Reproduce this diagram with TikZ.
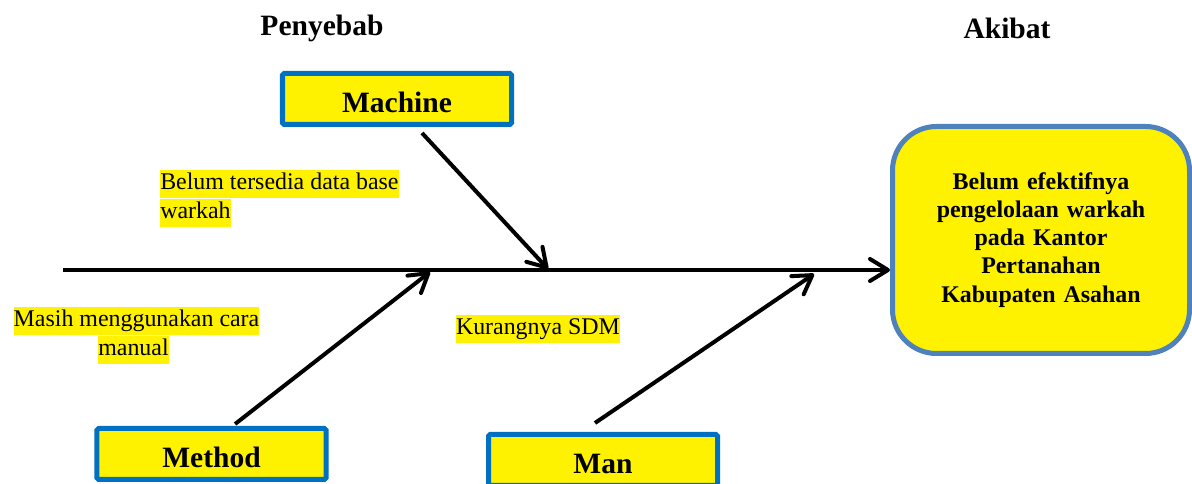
\documentclass[tikz,border=0pt]{standalone}
\usepackage{fontspec}
\setmainfont{Liberation Serif}
\usetikzlibrary{arrows.meta}
\definecolor{boxblue}{RGB}{0,112,192}
\definecolor{effblue}{RGB}{79,129,189}
\begin{document}
\begin{tikzpicture}[x=0.25mm, y=-0.25mm,     % one unit = one pixel of the sketch
  heading/.style={font=\fontsize{21}{25}\selectfont\bfseries},
  causebox/.style={draw=boxblue, line width=1.25mm, fill=yellow, rounded corners=0.4mm,
    minimum width=57.25mm, minimum height=12.75mm, text height=7mm, text depth=0pt,
    font=\fontsize{21}{25}\selectfont\bfseries},
  effectbox/.style={draw=effblue, line width=1.25mm, fill=yellow, rounded corners=11mm,
    minimum width=74.25mm, minimum height=56.75mm, text width=60mm, align=center,
    font=\fontsize{17}{20}\selectfont\bfseries},
  hilite/.style={fill=yellow, inner sep=0pt, text height=4.9mm, text depth=2.1mm,
    font=\fontsize{17}{20}\selectfont},
  bone/.style={line width=1mm, -{Straight Barb[length=4.5mm,width=5.5mm,round]}}]
  \useasboundingbox (0,0) rectangle (1192,484);

  \node[heading] (penyebab) at (322,28) {Penyebab};
  \node[heading] (akibat) at (1007,28) {Akibat};

  \node[causebox] (machine) at (397,99) {Machine};
  \node[causebox] (method) at (211.5,454) {Method};
  \node[causebox] (man) at (603,460) {Man};

  \node[effectbox] (problem) at (1041,240) {Belum efektifnya\\ pengelolaan warkah\\ pada Kantor\\ Pertanahan\\ Kabupaten Asahan};

  % the spine and the bones
  \coordinate (tail) at (63,270);
  \coordinate (jmachine) at (548,269);
  \coordinate (jmethod) at (430,272);
  \coordinate (jman) at (814,274);
  \draw[bone] (tail) -- (tail -| problem.west);
  \draw[bone] ([xshift=6.25mm,yshift=-1.5mm]machine.south) -- (jmachine);
  \draw[bone] ([xshift=5.9mm,yshift=0.5mm]method.north) -- (jmethod);
  \draw[bone] ([xshift=-2mm,yshift=2.25mm]man.north) -- (jman);

  % highlighted notes
  \node[hilite, anchor=west] (base1) at (160,184) {Belum tersedia data base\hspace{.25em}};
  \node[hilite, anchor=north west] (base2) at (base1.south west) {warkah};
  \node[hilite] (manual1) at (136.5,321) {Masih menggunakan cara\hspace{.25em}};
  \node[hilite, anchor=north] (manual2) at ([xshift=-0.75mm]manual1.south) {manual};
  \node[hilite] (sdm) at (538,329) {Kurangnya SDM};
\end{tikzpicture}
\end{document}
